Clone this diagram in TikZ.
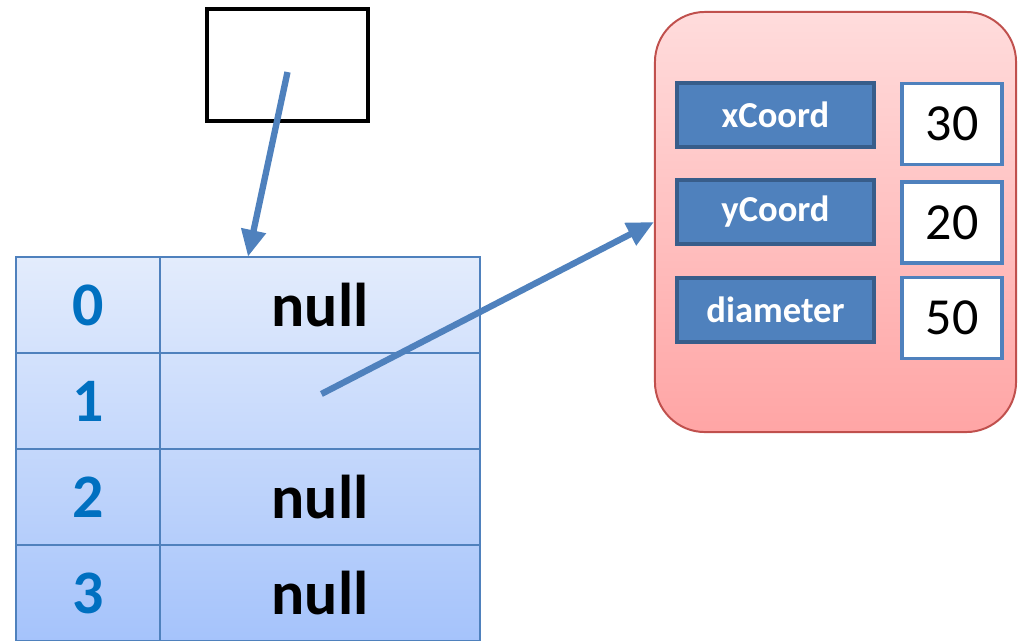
\documentclass[tikz,border=0pt]{standalone}
\usepackage{fontspec}
\setmainfont{Carlito}
\usepackage{tikz}
\usetikzlibrary{arrows.meta, shapes, positioning}
\definecolor{ptrblue}{HTML}{4F81BD}
\definecolor{darkblue}{HTML}{385D8A}
\definecolor{idxblue}{HTML}{0070C0}
\definecolor{tbltop}{HTML}{E3ECFC}
\definecolor{tblbot}{HTML}{A5C3FB}
\definecolor{objtop}{HTML}{FFDCDC}
\definecolor{objbot}{HTML}{FFA5A5}
\definecolor{objedge}{HTML}{C0504D}

\begin{document}
\begin{tikzpicture}[x=0.025cm, y=-0.025cm,
  refbox/.style={rectangle, draw=black, line width=2.2pt, fill=white,
                 minimum width=4.025cm, minimum height=2.8cm, inner sep=0pt},
  cell/.style={rectangle, draw=ptrblue, line width=1.3pt, inner sep=0pt,
               minimum height=2.4cm},
  idx/.style={cell, minimum width=3.6cm, text=idxblue,
              font=\fontsize{44}{48}\selectfont\bfseries},
  val/.style={cell, minimum width=8cm,
              font=\fontsize{44}{48}\selectfont\bfseries},
  field/.style={rectangle, draw=darkblue, fill=ptrblue, line width=2.2pt,
                minimum width=4.925cm, minimum height=1.6cm, inner sep=0pt,
                text=white, font=\fontsize{26}{30}\selectfont\bfseries},
  num/.style={rectangle, draw=ptrblue, fill=white, line width=2.2pt,
              minimum width=2.5cm, minimum height=2.025cm, inner sep=0pt,
              font=\fontsize{37}{42}\selectfont},
  arrow/.style={-{Triangle[length=19pt, width=17pt]}, draw=ptrblue,
                line width=4.5pt},
]
\useasboundingbox (0,0) rectangle (1018,640);

% reference variable
\node[refbox] (ptr) at (287.5,65) {};

% the array
\node[rectangle, top color=tbltop, bottom color=tblbot, draw=none,
      minimum width=11.6cm, minimum height=9.6cm, inner sep=0pt]
      (tbl) at (248,449) {};
\node[idx] (i0) at (88,305) {0};
\node[val] (v0) at (320,305) {null};
\node[idx] (i1) at (88,401) {1};
\node[val] (v1) at (320,401) {};
\node[idx] (i2) at (88,497) {2};
\node[val] (v2) at (320,497) {null};
\node[idx] (i3) at (88,593) {3};
\node[val] (v3) at (320,593) {null};

% the object
\node[rectangle, rounded corners=1.25cm, draw=objedge, line width=1.4pt,
      top color=objtop, bottom color=objbot,
      minimum width=9.025cm, minimum height=10.5cm, inner sep=0pt]
      (obj) at (835.5,222) {};
\node[field] (fx) at (775.5,115) {xCoord};
\node[field] (fy) at (775.5,212) {yCoord};
\node[field] (fd) at (775.5,310) {diameter};
\node[num]   (nx) at (952,124)   {30};
\node[num]   (ny) at (952,222.5) {20};
\node[num]   (nd) at (952,318)   {50};

\draw[arrow] ([yshift=-5pt]ptr.center) -- (tbl.north);
\draw[arrow] ([xshift=1pt, yshift=5pt]v1.center) -- (obj.west);
\end{tikzpicture}
\end{document}
